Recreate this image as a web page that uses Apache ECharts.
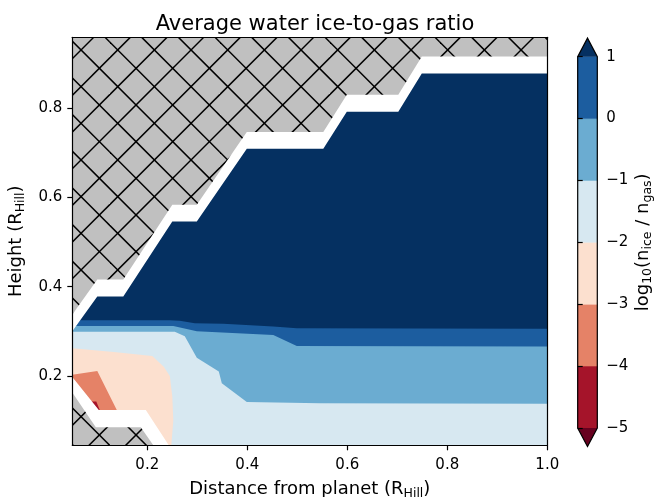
<!DOCTYPE html>
<html>
<head>
<meta charset="utf-8">
<script src="https://cdn.jsdelivr.net/npm/echarts@6/dist/echarts.min.js"></script>
<style>
  html, body { margin: 0; padding: 0; background: #fff; }
  #chart { width: 659px; height: 497px; }
</style>
</head>
<body>
<div id="chart"></div>
<script>
// ---- axes (units of R_Hill) ----
const X_RANGE = [0.05, 1.0];
const Y_RANGE = [0.0447, 0.959];
const X_TICKS = [0.2, 0.4, 0.6, 0.8, 1.0];
const Y_TICKS = [0.2, 0.4, 0.6, 0.8];

// ---- contour levels of log10(n_ice / n_gas) and their fills ----
const LEVELS = [-5, -4, -3, -2, -1, 0, 1];
const BAND_COLORS = ['#a5142a', '#e58267', '#fce0cf', '#d7e8f1', '#6bacd1', '#1c5d9f'];
const UNDER_COLOR = '#67001f';
const OVER_COLOR = '#053061';

// ---- level curves, [distance, height] ----
const CONTOUR_P1 = [[0.05, 0.325], [0.245, 0.325], [0.265, 0.324], [0.295, 0.318], [0.352, 0.317],
                    [0.452, 0.311], [0.499, 0.307], [1.0, 0.306]];
const CONTOUR_0 = [[0.05, 0.312], [0.252, 0.312], [0.299, 0.300], [0.452, 0.292], [0.499, 0.267],
                   [1.0, 0.266]];
const CONTOUR_M1 = [[0.05, 0.299], [0.255, 0.299], [0.275, 0.289], [0.299, 0.241], [0.343, 0.210],
                    [0.349, 0.184], [0.399, 0.142], [0.545, 0.139], [1.0, 0.138]];
const CONTOUR_M2 = [[0.05, 0.262], [0.133, 0.254], [0.21, 0.245], [0.233, 0.221], [0.245, 0.200],
                    [0.25, 0.154], [0.252, 0.100], [0.248, 0.0447]];
const CONTOUR_M3 = [[0.05, 0.203], [0.10, 0.211], [0.139, 0.124], [0.15, 0.10]];
const CONTOUR_M4 = [[0.085, 0.143], [0.098, 0.143], [0.108, 0.115]];

// ---- edges of the computed domain and of the unresolved (hatched) zone ----
const DOMAIN_TOP = [[0.05, 0.300], [0.10, 0.378], [0.152, 0.378], [0.25, 0.546], [0.299, 0.546],
                    [0.399, 0.709], [0.552, 0.709], [0.599, 0.792], [0.702, 0.792], [0.749, 0.878],
                    [1.0, 0.878]];
const HATCH_TOP = [[0.05, 0.338], [0.10, 0.416], [0.152, 0.416], [0.25, 0.584], [0.299, 0.584],
                   [0.399, 0.747], [0.552, 0.747], [0.599, 0.830], [0.702, 0.830], [0.749, 0.916],
                   [1.0, 0.916]];
const DOMAIN_BOTTOM = [[0.05, 0.198], [0.103, 0.124], [0.197, 0.124], [0.243, 0.0447]];
const HATCH_BOTTOM = [[0.05, 0.163], [0.097, 0.085], [0.187, 0.085], [0.212, 0.0447]];

const FONT = 'DejaVu Sans';
const [X_MIN, X_MAX] = X_RANGE;
const [Y_MIN, Y_MAX] = Y_RANGE;

// region above a curve / below a curve, closed along the plot frame
const above = pts => pts.concat([[X_MAX, Y_MAX], [X_MIN, Y_MAX]]);
const below = pts => pts.concat([[X_MIN, Y_MIN]]);
const frame = [[X_MIN, Y_MIN], [X_MAX, Y_MIN], [X_MAX, Y_MAX], [X_MIN, Y_MAX]];

// cross-hatch tile: grey ground with two families of 45 degree lines
function hatchTile() {
  const size = 110, step = size / 3;
  const cv = document.createElement('canvas');
  cv.width = size; cv.height = size;
  const g = cv.getContext('2d');
  g.fillStyle = '#c0c0c0';
  g.fillRect(0, 0, size, size);
  g.strokeStyle = '#000';
  g.lineWidth = 1.5;
  const ox = 7.7, oy = 13.3;
  for (let k = -8; k <= 8; k++) {
    const c1 = ox - oy + k * step;
    const c2 = ox + oy + k * step;
    g.beginPath(); g.moveTo(c1 - size, -size); g.lineTo(c1 + 2 * size, 2 * size); g.stroke();
    g.beginPath(); g.moveTo(c2 + size, -size); g.lineTo(c2 - 2 * size, 2 * size); g.stroke();
  }
  return cv;
}
const HATCH = { image: hatchTile(), repeat: 'repeat' };

function polygonSeries(points, fill) {
  return {
    type: 'custom', xAxisIndex: 0, yAxisIndex: 0, clip: true, silent: true,
    data: points,
    renderItem: function (params, api) {
      if (params.dataIndex !== 0) return null;
      return {
        type: 'polygon',
        shape: { points: points.map(p => api.coord(p)) },
        style: { fill: fill }
      };
    }
  };
}

const series = [
  polygonSeries(frame, BAND_COLORS[3]),
  polygonSeries(above(CONTOUR_M1), BAND_COLORS[4]),
  polygonSeries(above(CONTOUR_0), BAND_COLORS[5]),
  polygonSeries(above(CONTOUR_P1), OVER_COLOR),
  polygonSeries(below(CONTOUR_M2), BAND_COLORS[2]),
  polygonSeries(below(CONTOUR_M3), BAND_COLORS[1]),
  polygonSeries(below(CONTOUR_M4), BAND_COLORS[0]),
  polygonSeries(above(DOMAIN_TOP), '#ffffff'),
  polygonSeries(below(DOMAIN_BOTTOM), '#ffffff'),
  polygonSeries(above(HATCH_TOP), HATCH),
  polygonSeries(below(HATCH_BOTTOM), HATCH)
];

// colour bar bands
const bands = BAND_COLORS.map((c, i) => [LEVELS[i], LEVELS[i + 1]]);
series.push({
  type: 'custom', xAxisIndex: 1, yAxisIndex: 1, silent: true,
  data: bands,
  renderItem: function (params, api) {
    const lo = api.coord([0, api.value(0)]);
    const hi = api.coord([1, api.value(1)]);
    return {
      type: 'rect',
      shape: { x: lo[0], y: hi[1], width: hi[0] - lo[0], height: lo[1] - hi[1] },
      style: { fill: BAND_COLORS[params.dataIndex], stroke: BAND_COLORS[params.dataIndex], lineWidth: 0.5 }
    };
  }
});
// extension triangles and outline
const vMin = LEVELS[0], vMax = LEVELS[LEVELS.length - 1];
const ext = 0.05 * (vMax - vMin);
series.push({
  type: 'custom', xAxisIndex: 1, yAxisIndex: 1, silent: true, clip: false,
  data: [[0, vMin]],
  renderItem: function (params, api) {
    const c = p => api.coord(p);
    return {
      type: 'group',
      children: [
        { type: 'polygon', shape: { points: [c([0, vMax]), c([1, vMax]), c([0.5, vMax + ext])] },
          style: { fill: OVER_COLOR } },
        { type: 'polygon', shape: { points: [c([0, vMin]), c([1, vMin]), c([0.5, vMin - ext])] },
          style: { fill: UNDER_COLOR } },
        { type: 'polygon',
          shape: { points: [c([0, vMin]), c([0, vMax]), c([0.5, vMax + ext]), c([1, vMax]),
                            c([1, vMin]), c([0.5, vMin - ext])] },
          style: { fill: 'none', stroke: '#000', lineWidth: 1.2 } }
      ]
    };
  }
});

const tickText = { fontFamily: FONT, fontSize: 15, color: '#000' };
const nameText = {
  fontFamily: FONT, fontSize: 18, color: '#000', lineHeight: 22,
  rich: { s: { fontFamily: FONT, fontSize: 12.5, color: '#000', lineHeight: 14, verticalAlign: 'bottom' } }
};
const lineStyle = { color: '#000', width: 1.2 };

const option = {
  animation: false,
  backgroundColor: '#fff',
  title: {
    text: 'Average water ice-to-gas ratio',
    left: 310, top: 9, textAlign: 'center',
    textStyle: { fontFamily: FONT, fontSize: 21, fontWeight: 'normal', color: '#000' }
  },
  grid: [
    { left: 72.3, top: 37.3, width: 475, height: 408, outerBoundsMode: 'none', containLabel: false },
    { left: 577.7, top: 56.7, width: 19.6, height: 371.3, outerBoundsMode: 'none', containLabel: false }
  ],
  xAxis: [
    { type: 'value', gridIndex: 0, min: X_MIN, max: X_MAX, z: 10,
      name: 'Distance from planet (R{s|Hill})', nameLocation: 'middle', nameGap: 33,
      nameTextStyle: nameText,
      axisLine: { show: true, lineStyle: lineStyle },
      axisTick: { show: true, inside: false, length: 5, lineStyle: lineStyle, customValues: X_TICKS },
      axisLabel: { ...tickText, margin: 12, customValues: X_TICKS, formatter: v => v.toFixed(1) },
      splitLine: { show: false } },
    { type: 'value', gridIndex: 1, min: 0, max: 1, show: false },
    { type: 'value', gridIndex: 0, min: X_MIN, max: X_MAX, position: 'top', z: 10,
      axisLine: { show: true, onZero: false, lineStyle: lineStyle },
      axisTick: { show: false }, axisLabel: { show: false }, splitLine: { show: false } }
  ],
  yAxis: [
    { type: 'value', gridIndex: 0, min: Y_MIN, max: Y_MAX, z: 10,
      name: 'Height (R{s|Hill})', nameLocation: 'middle', nameGap: 39, nameRotate: 90,
      nameTextStyle: nameText,
      axisLine: { show: true, onZero: false, lineStyle: lineStyle },
      axisTick: { show: true, inside: false, length: 5, lineStyle: lineStyle, customValues: Y_TICKS },
      axisLabel: { ...tickText, margin: 10, customValues: Y_TICKS, formatter: v => v.toFixed(1) },
      splitLine: { show: false } },
    { type: 'value', gridIndex: 1, min: vMin, max: vMax, interval: 1, position: 'right', z: 10,
      name: 'log{s|10}(n{s|ice} / n{s|gas})', nameLocation: 'middle', nameGap: 32, nameRotate: 90,
      nameTextStyle: nameText,
      axisLine: { show: false },
      axisTick: { show: true, inside: false, length: 5, lineStyle: lineStyle },
      axisLabel: { ...tickText, margin: 9, formatter: v => String(v).replace('-', '\u2212') },
      splitLine: { show: false } },
    { type: 'value', gridIndex: 0, min: Y_MIN, max: Y_MAX, position: 'right', z: 10,
      axisLine: { show: true, onZero: false, lineStyle: lineStyle },
      axisTick: { show: false }, axisLabel: { show: false }, splitLine: { show: false } }
  ],
  series: series
};

const chart = echarts.init(document.getElementById('chart'), null, { renderer: 'canvas' });
chart.setOption(option);
</script>
</body>
</html>
